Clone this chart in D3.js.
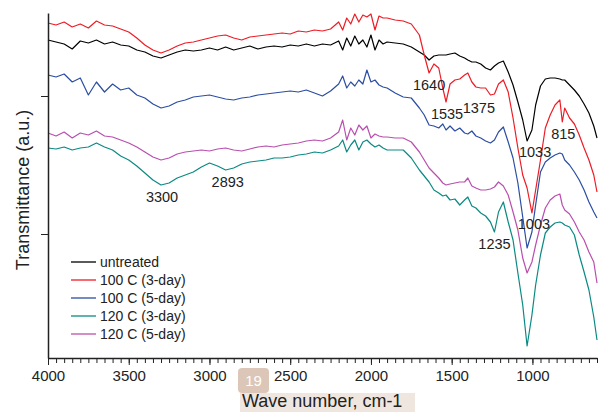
<!DOCTYPE html>
<html>
<head>
<meta charset="utf-8">
<title>FTIR spectra</title>
<script src="https://cdn.jsdelivr.net/npm/d3@7"></script>
<style>
  body { margin: 0; background: #fff; }
  text { font-family: Arial, "Liberation Sans", sans-serif; fill: #222; }
</style>
</head>
<body>
<svg width="598" height="412" id="mainsvg"></svg>
<script>
    // wavenumber grid shared by all spectra (cm-1)
    const wavenumbers = [4000,3950,3900,3850,3800,3750,3700,3650,3600,3550,3500,3450,3400,3350,3300,3250,3200,3150,3100,3050,3000,2950,2900,2850,2800,2750,2700,2650,2600,2550,2500,2450,2400,2350,2300,2250,
        2200,2175,2150,2125,2100,2075,2050,2025,2000,1975,1950,1925,1900,
        1850,1800,1750,1700,
        1670,1640,1610,1580,1555,1535,1510,1480,1450,1420,1400,1375,1350,1320,1290,1260,1235,1210,1180,1150,1120,1090,1060,1033,1003,980,950,920,890,860,830,815,800,770,740,710,680,650,620,600];

    // transmittance (a.u., offset traces)
    const untreated = [318,316,314,309,317,315,318,314,316,313,312,308,306,302,300,303,306,308,307,308,310,308,311,308,310,312,309,311,312,311,313,312,314,312,314,313,
        317,308,320,312,322,314,318,311,323,308,318,314,316,
        315,314,311,306,
        303,298,302,303,303,303,304,305,302,300,298,296,296,294,290,288,292,295,297,286,273,256,238,217,228,253,272,279,280,280,279,278,278,273,268,262,254,245,232,220];
    const t100d3 = [335,333,336,331,334,330,337,333,332,329,326,320,313,308,305,308,312,315,316,318,320,322,323,320,318,321,322,323,324,325,324,327,326,328,327,329,
        336,328,340,334,344,336,343,341,344,328,342,340,340,
        338,337,334,323,
        303,285,294,290,270,256,274,278,279,283,285,276,271,270,270,263,264,274,278,266,240,210,183,170,145,168,198,230,243,253,258,236,250,240,234,223,210,198,183,166];
    const t100d5 = [283,281,284,276,280,263,276,266,274,268,270,263,260,254,250,252,256,258,261,262,263,261,259,258,260,261,263,264,265,266,267,266,268,265,262,267,
        274,282,270,276,272,278,274,288,276,278,273,271,270,
        265,261,260,250,
        243,233,232,230,234,228,232,227,230,225,224,227,222,220,217,215,218,226,231,216,200,175,141,110,126,153,186,196,200,203,205,204,198,193,186,178,168,156,146,140];
    const t120d3 = [210,209,211,208,210,211,215,211,208,202,198,192,185,178,173,175,180,183,186,191,195,192,188,190,194,196,197,198,200,200,201,203,204,206,205,208,
        212,218,206,213,218,208,216,218,214,211,213,210,208,
        208,208,200,188,
        182,176,168,165,162,163,158,159,153,158,161,152,150,145,142,136,126,146,156,136,118,85,53,12,43,73,103,125,131,135,136,135,133,131,123,103,86,68,41,18];
    const t120d5 = [225,222,226,220,225,223,227,222,221,218,215,211,206,201,198,200,204,206,207,208,207,209,210,208,207,209,211,212,211,213,214,215,217,218,217,220,
        226,238,218,230,223,233,228,232,220,224,222,221,221,
        220,220,216,206,
        198,190,185,180,175,173,174,175,176,176,180,172,170,168,168,169,171,176,172,163,146,128,100,85,96,113,133,150,158,162,164,153,148,144,136,126,118,106,96,75];

    const seriesNames = ["untreated", "100 C (3-day)", "100 C (5-day)", "120 C (3-day)", "120 C (5-day)"];
    const seriesValues = [untreated, t100d3, t100d5, t120d3, t120d5];
    const seriesColors = ["#000000", "#ee1c25", "#2b4ea2", "#0b8a83", "#b94fae"];
    const legendColors = ["#000000", "#ee1c25", "#2b4ea2", "#0b8a83", "#d48fc9"];

    const xTicks = [4000, 3500, 3000, 2500, 2000, 1500, 1000];
    const yTicks = [124, 262];

    const peakLabels = ["1640", "1535", "1375", "815", "1033", "1003", "1235", "3300", "2893"];
    const peakWave = [1640, 1535, 1375, 815, 1033, 1003, 1235, 3300, 2893];

    let mainsvg = d3.select('#mainsvg');

    let x = d3.scaleLinear().domain([4000, 600]).range([48, 597]);
    let y = d3.scaleLinear().domain([0, 345]).range([358, 13]);

    // spectra
    let line = d3.line()
        .x((d, i) => x(wavenumbers[i]))
        .y(d => y(d));

    mainsvg.append('g').selectAll('path')
        .data(seriesValues)
        .join('path')
        .attr('d', d => line(d))
        .attr('fill', 'none')
        .attr('stroke', (d, i) => seriesColors[i])
        .attr('stroke-width', 1.2)
        .attr('stroke-linejoin', 'round');

    // x axis: minor ticks then major ticks with labels
    let minor = d3.range(4000, 599, -50);
    mainsvg.append('g')
        .attr('transform', 'translate(0,358)')
        .call(d3.axisBottom(x).tickValues(minor).tickSize(5).tickFormat(''))
        .call(g => g.select('.domain').remove())
        .call(g => g.selectAll('line').attr('stroke', '#222'));

    let xAxis = mainsvg.append('g')
        .attr('transform', 'translate(0,358)')
        .call(d3.axisBottom(x).tickValues(xTicks).tickSize(7).tickSizeOuter(0).tickFormat(d3.format('d')));
    xAxis.select('.domain').attr('stroke', '#222').attr('stroke-width', 1.5);
    xAxis.selectAll('line').attr('stroke', '#222');
    xAxis.selectAll('text')
        .attr('y', 12)
        .style('font-size', '15px')
        .style('font-family', 'Arial, "Liberation Sans", sans-serif')
        .attr('fill', '#222');

    // y axis (no labels)
    let yAxis = mainsvg.append('g')
        .attr('transform', 'translate(48,0)')
        .call(d3.axisLeft(y).tickValues(yTicks).tickSize(7).tickSizeOuter(0).tickFormat(''));
    yAxis.select('.domain').attr('stroke', '#222').attr('stroke-width', 1.5);
    yAxis.selectAll('line').attr('stroke', '#222');

    mainsvg.append('text')
        .attr('transform', 'translate(29,190) rotate(-90)')
        .attr('text-anchor', 'middle')
        .style('font-size', '18px')
        .text('Transmittance (a.u.)');

    // peak annotations
    const labelDx = [0, 1, 7, 1, 8, 2, 0, 1, 1];
    const labelY = [90, 119, 113, 139, 157, 229, 249, 202, 187];
    mainsvg.append('g').selectAll('text')
        .data(peakLabels)
        .join('text')
        .attr('x', (d, i) => x(peakWave[i]) + labelDx[i])
        .attr('y', (d, i) => labelY[i])
        .attr('text-anchor', 'middle')
        .style('font-size', '14.5px')
        .text(d => d);

    // legend
    let legend = mainsvg.append('g').attr('transform', 'translate(71,262)');
    seriesNames.forEach((name, i) => {
        legend.append('line')
            .attr('x1', 0).attr('x2', 25)
            .attr('y1', i * 18).attr('y2', i * 18)
            .attr('stroke', legendColors[i])
            .attr('stroke-width', i === 4 ? 2 : 1.3);
        legend.append('text')
            .attr('x', 29).attr('y', i * 18 + 5)
            .style('font-size', '14px')
            .text(name);
    });

    // page badge and label background (as in the scanned figure)
    mainsvg.append('rect')
        .attr('x', 240).attr('y', 393).attr('width', 175).attr('height', 19)
        .attr('fill', '#f0e6e0');
    mainsvg.append('rect')
        .attr('x', 238).attr('y', 368).attr('width', 31).attr('height', 25).attr('rx', 4)
        .attr('fill', '#dcc6b8');
    mainsvg.append('text')
        .attr('x', 253.5).attr('y', 386)
        .attr('text-anchor', 'middle')
        .style('font-size', '15px')
        .style('fill', '#ffffff')
        .text('19');

    mainsvg.append('text')
        .attr('x', 242).attr('y', 407)
        .style('font-size', '18px')
        .text('Wave number, cm-1');
</script>
</body>
</html>
